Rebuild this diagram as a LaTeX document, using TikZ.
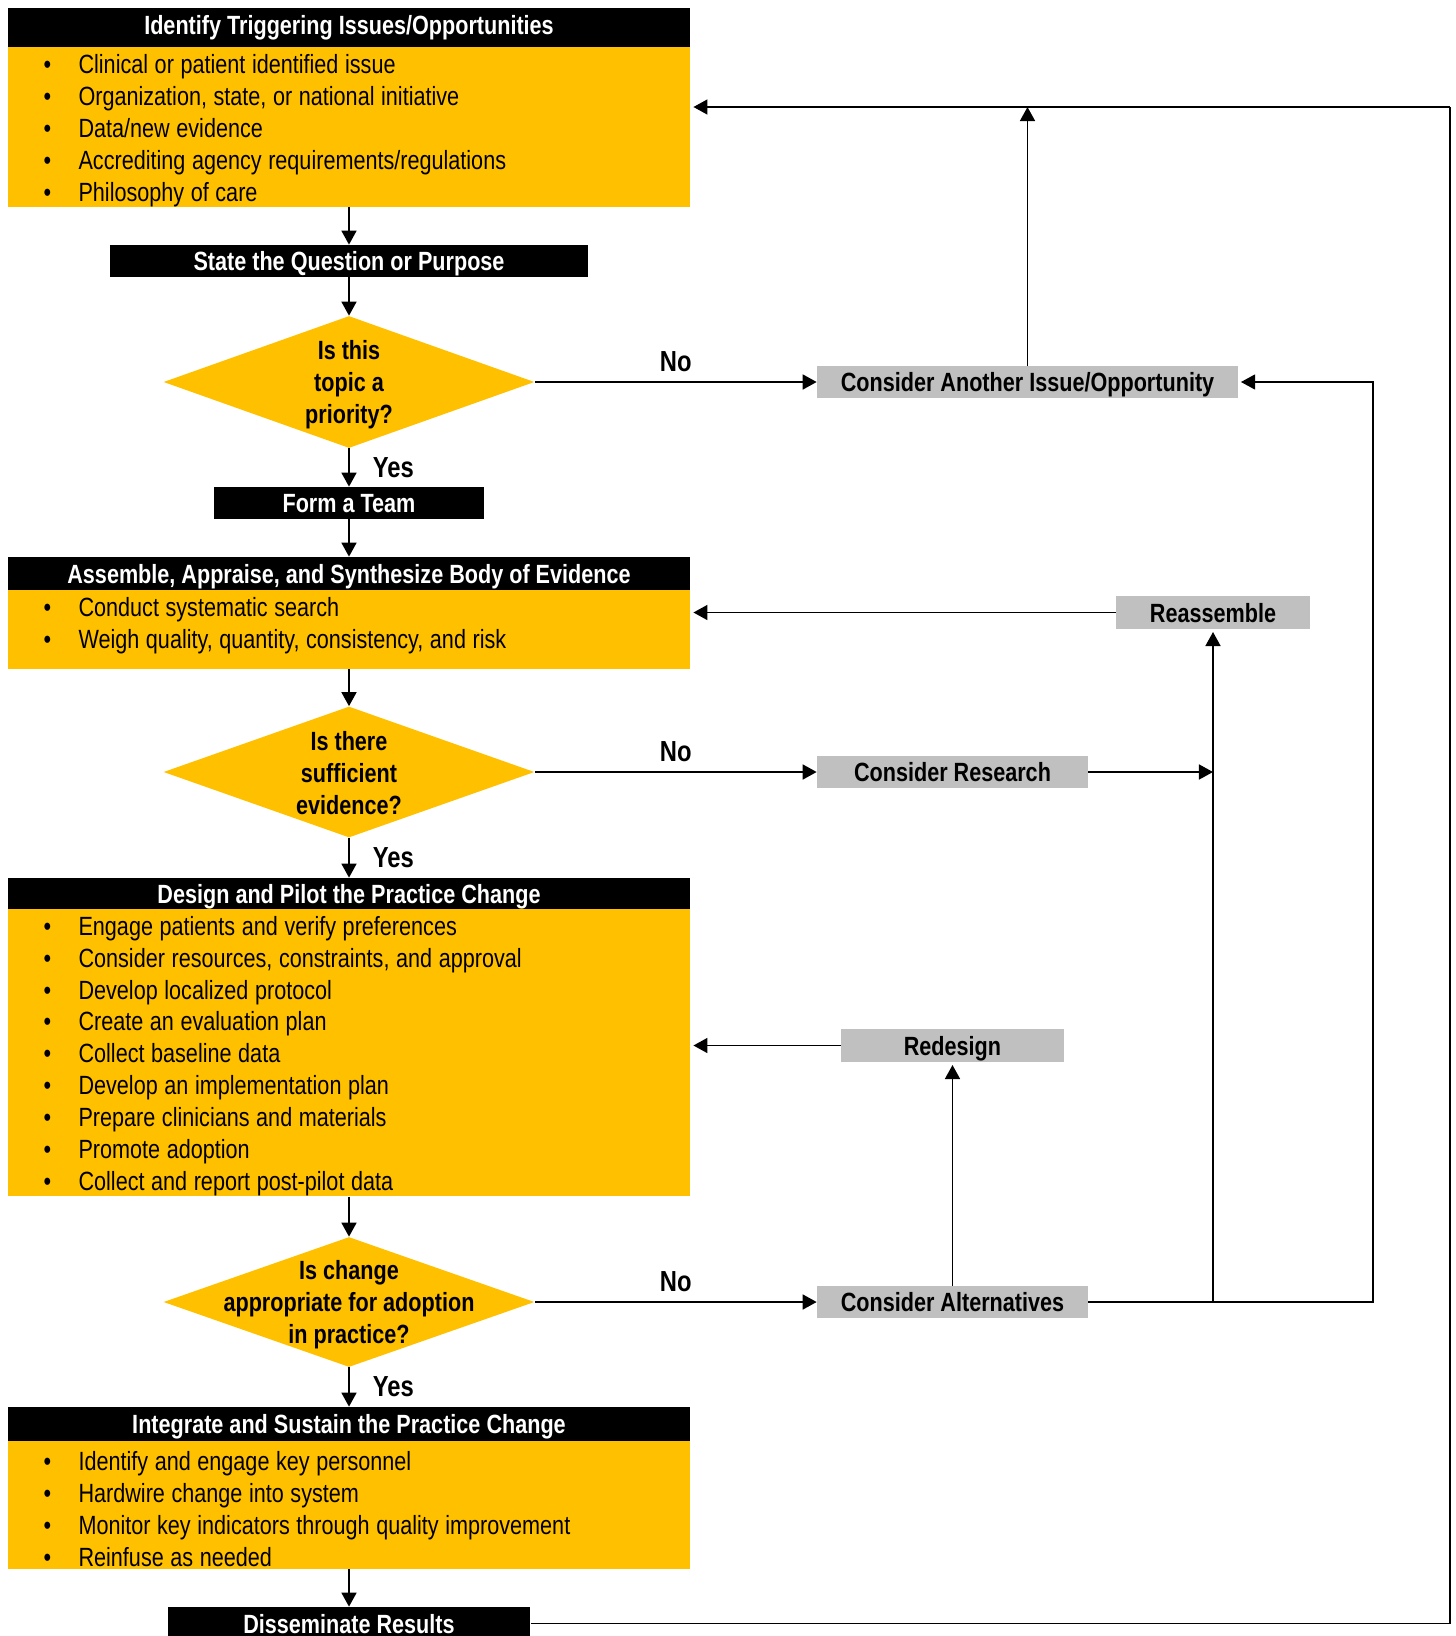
\documentclass[tikz,border=0pt]{standalone}
\usepackage{fontspec}
\setmainfont{Liberation Sans}[FakeStretch=0.82]
\usepackage{tikz}
\usetikzlibrary{arrows.meta,positioning,shapes.geometric}
\usepackage{xcolor}
\definecolor{gold}{HTML}{FFC000}
\definecolor{boxgray}{HTML}{C0C0C0}
\newcommand{\bitem}{\makebox[0.70cm][l]{\textbullet}}

\begin{document}
\begin{tikzpicture}[x=0.02cm, y=-0.02cm, >={Triangle[length=8pt,width=8.5pt]},
  every node/.style={font=\fontsize{15pt}{18.2pt}\selectfont},
  bold/.style={font=\fontsize{15pt}{18.2pt}\selectfont\bfseries},
  yesno/.style={font=\fontsize{16.5pt}{19pt}\selectfont\bfseries},
  head/.style={bold, fill=black, text=white, minimum width=13.66cm, inner sep=0pt,
    text height=12pt, text depth=1pt},
  body/.style={fill=gold, text width=12.22cm, align=left, inner xsep=0.72cm, inner ysep=0pt,
    execute at begin node={\spaceskip=0.25em plus 0.1em minus 0.05em\rule{0pt}{15pt}}},
  blackbox/.style={bold, fill=black, text=white, minimum height=0.64cm, inner sep=0pt,
    text height=12pt, text depth=1pt},
  graybox/.style={bold, fill=boxgray, minimum height=0.64cm, inner sep=0pt,
    text height=12pt, text depth=1pt},
  decision/.style={diamond, fill=gold, minimum width=7.42cm, inner sep=0pt},
  qtext/.style={bold, align=center, yshift=-0.05cm},
  arr/.style={->, line width=1.1pt},
  fb/.style={line width=0.7pt},
  gap/.style={shorten >=1.5pt}]

  \useasboundingbox (0,0) rectangle (1455,1636);

  % Define coordinates for nodes
  \node[head, minimum height=0.78cm, text height=10.5pt, text depth=3pt] (trigH) at (349,27.5) {Identify Triggering Issues/Opportunities};
  \node[body, minimum height=3.2cm] (trigB) at (349,127) {\bitem Clinical or patient identified issue\\
    \bitem Organization, state, or national initiative\\
    \bitem Data/new evidence\\
    \bitem Accrediting agency requirements/regulations\\
    \bitem Philosophy of care};
  \node[blackbox, minimum width=9.58cm] (stateQ) at (349,261) {State the Question or Purpose};
  \node[decision, minimum height=2.64cm, label={[qtext]center:{Is this\\topic a\\priority?}}] (prio) at (349,382) {};
  \node[blackbox, minimum width=5.42cm] (team) at (349,503) {Form a Team};
  \node[head, minimum height=0.66cm] (assemH) at (349,573.5) {Assemble, Appraise, and Synthesize Body of Evidence};
  \node[body, minimum height=1.58cm, text depth=30pt, execute at begin node={\spaceskip=0.25em plus 0.1em minus 0.05em}] (assemB) at (349,629.5) {\bitem Conduct systematic search\\
    \bitem Weigh quality, quantity, consistency, and risk};
  \node[decision, minimum height=2.62cm, label={[qtext, yshift=0.03cm]center:{Is there\\sufficient\\evidence?}}] (suff) at (349,772) {};
  \node[head, minimum height=0.62cm] (designH) at (349,893.5) {Design and Pilot the Practice Change};
  \node[body, minimum height=5.74cm] (designB) at (349,1052.5) {\bitem Engage patients and verify preferences\\
    \bitem Consider resources, constraints, and approval\\
    \bitem Develop localized protocol\\
    \bitem Create an evaluation plan\\
    \bitem Collect baseline data\\
    \bitem Develop an implementation plan\\
    \bitem Prepare clinicians and materials\\
    \bitem Promote adoption\\
    \bitem Collect and report post-pilot data};
  \node[decision, minimum height=2.6cm, label={[qtext]center:{Is change\\appropriate for adoption\\in practice?}}] (adopt) at (349,1302) {};
  \node[head, minimum height=0.68cm] (integH) at (349,1424) {Integrate and Sustain the Practice Change};
  \node[body, minimum height=2.56cm] (integB) at (349,1505) {\bitem Identify and engage key personnel\\
    \bitem Hardwire change into system\\
    \bitem Monitor key indicators through quality improvement\\
    \bitem Reinfuse as needed};
  \node[blackbox, minimum width=7.26cm, minimum height=0.66cm] (dissem) at (349,1623.5) {Disseminate Results};

  \node[graybox, minimum width=8.42cm] (another) at (1027.5,382) {Consider Another Issue/Opportunity};
  \node[graybox, minimum width=3.88cm, minimum height=0.66cm] (reasm) at (1213,612.5) {Reassemble};
  \node[graybox, minimum width=5.42cm] (research) at (952.5,772) {Consider Research};
  \node[graybox, minimum width=4.46cm, minimum height=0.66cm] (redesign) at (952.5,1045.5) {Redesign};
  \node[graybox, minimum width=5.42cm] (altern) at (952.5,1302) {Consider Alternatives};

  \coordinate (toploop) at (1450,107);
  \coordinate (sideloop) at (1373,1302);

  % Draw arrows between nodes
  \draw[arr] (trigB) -- (stateQ);
  \draw[arr] (stateQ) -- (prio);
  \draw[arr] (prio) -- node[yesno, midway, right=0.34cm] {Yes} (team);
  \draw[arr] (team) -- (assemH);
  \draw[arr] (assemB) -- (suff);
  \draw[arr] (suff) -- node[yesno, midway, right=0.34cm] {Yes} (designH);
  \draw[arr] (designB) -- (adopt);
  \draw[arr] (adopt) -- node[yesno, midway, right=0.34cm] {Yes} (integH);
  \draw[arr] (integB) -- (dissem);

  \draw[arr] (prio) -- node[yesno, midway, above=0.07cm] {No} (another);
  \draw[arr] (suff) -- node[yesno, midway, above=0.07cm] {No} (research);
  \draw[arr] (adopt) -- node[yesno, midway, above=0.07cm] {No} (altern);

  % feedback loops
  \draw[arr] (another) -- (another |- toploop);
  \draw[fb] (dissem) -- (dissem -| toploop) -- (toploop);
  \draw[arr, gap] (toploop) -- (toploop -| trigB.east);
  \draw[fb, ->, gap] (altern) -- (sideloop) -- (sideloop |- another) -- (another);
  \draw[arr, gap] (altern -| reasm) -- (reasm);
  \draw[arr] (research) -- (research -| reasm);
  \draw[arr, gap] (reasm) -- (reasm -| assemB.east);
  \draw[arr, gap] (altern) -- (redesign);
  \draw[arr, gap] (redesign) -- (redesign -| designB.east);
\end{tikzpicture}
\end{document}
